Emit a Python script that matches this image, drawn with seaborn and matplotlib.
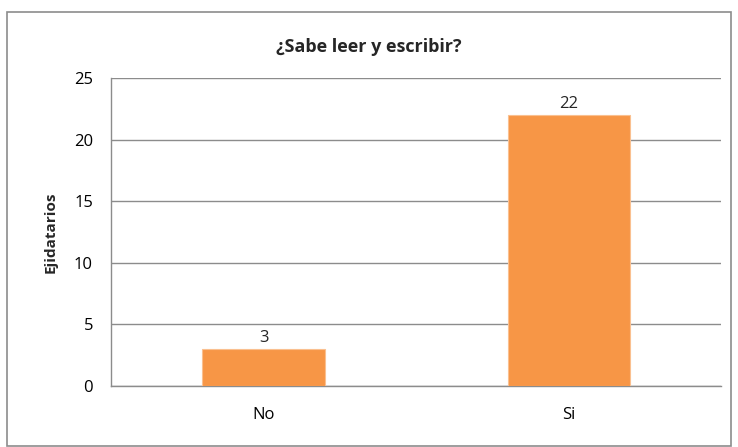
import seaborn as sns
import matplotlib.pyplot as plt
import pandas as pd
from matplotlib.patches import Rectangle

categorias = ["No", "Si"]
ejidatarios = [3, 22]
yticks = [0, 5, 10, 15, 20, 25]

sns.set_style("white")
plt.rcParams['font.family'] = ['Open Sans', 'DejaVu Sans']

df = pd.DataFrame({"respuesta": categorias, "ejidatarios": ejidatarios})

fig = plt.figure(figsize=(7.38, 4.47), dpi=100)
ax = fig.add_axes([0.1504, 0.1365, 0.8266, 0.689])

sns.barplot(data=df, x="respuesta", y="ejidatarios", color="#F79646",
            width=0.4, edgecolor="#FAC090", linewidth=0.8, saturation=1, ax=ax, zorder=3)

ax.set_ylim(0, 25)
ax.set_yticks(yticks)
ax.set_xlim(-0.5, 1.5)
ax.yaxis.grid(True, color="#8C8C8C", linewidth=1)
ax.set_axisbelow(True)
for s in ["top", "right"]:
    ax.spines[s].set_visible(False)
for s in ["left", "bottom"]:
    ax.spines[s].set_color("#8C8C8C")
    ax.spines[s].set_linewidth(1)
ax.tick_params(axis="both", length=0, labelsize=12, colors="black", pad=13)
ax.tick_params(axis="x", pad=15)

ax.set_xlabel("")
ax.set_ylabel("Ejidatarios", fontsize=11, fontweight="bold", labelpad=12)
fig.text(0.5, 1 - 47 / 447, "¿Sabe leer y escribir?", fontsize=13, fontweight="bold",
         ha="center", va="center")

for i, v in enumerate(ejidatarios):
    ax.text(i, v + 0.25, str(v), ha="center", va="bottom", fontsize=12)

fig.patches.append(Rectangle((7 / 738, 1 / 447), 724 / 738, 434 / 447,
                             transform=fig.transFigure, fill=False,
                             edgecolor="#8C8C8C", linewidth=1.2))

fig.savefig("out.png", dpi=100)
